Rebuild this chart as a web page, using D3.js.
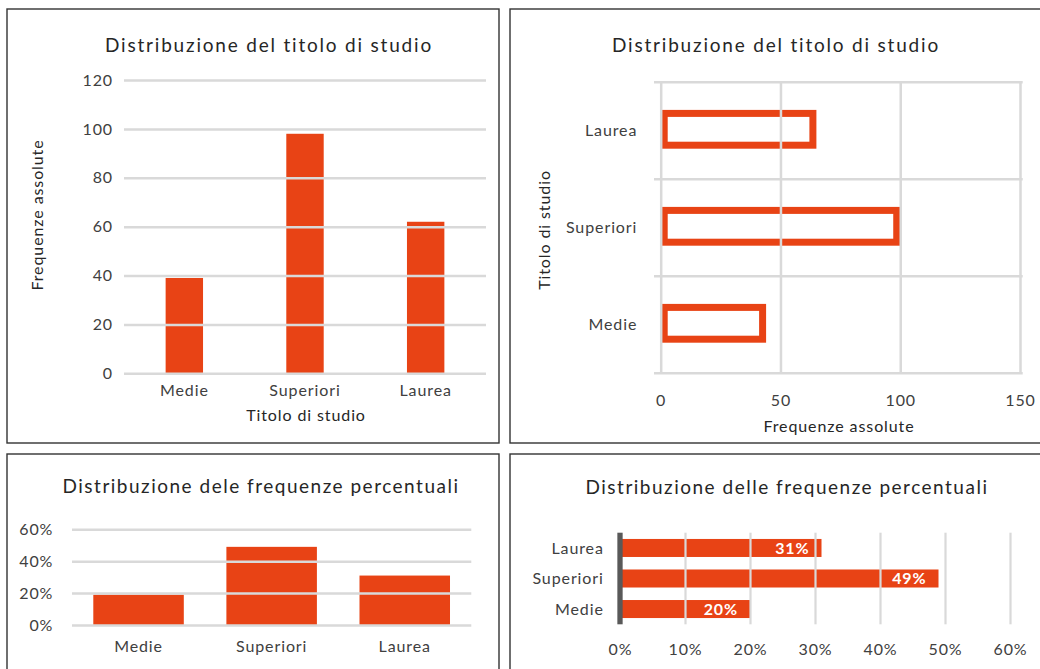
<!DOCTYPE html>
<html>
<head>
<meta charset="utf-8">
<script src="https://cdn.jsdelivr.net/npm/d3@7/dist/d3.min.js"></script>
<style>
  html, body { margin: 0; padding: 0; background: #fff; }
  svg { display: block; }
  text { font-family: Lato, "Open Sans", sans-serif; fill: #404040; letter-spacing: 0.9px; }
  .title { font-size: 19px; fill: #262626; letter-spacing: 1.8px; }
  .title.narrow { letter-spacing: 1.5px; }
  .tick text { font-size: 16px; }
  .axis-title { font-size: 16px; fill: #262626; }
</style>
</head>
<body>
<svg id="chart" width="1040" height="669"></svg>
<script>
// Titolo di studio: categories and frequencies
const categories = ["Medie", "Superiori", "Laurea"];
const absoluteFreq = [39, 98, 62];              // column chart (top left)
const absoluteFreqOutline = [44, 100, 65];      // outlined bar chart (top right)
const percentFreq = [0.19, 0.49, 0.31];         // column chart (bottom left)
const percentFreqLabelled = [0.20, 0.49, 0.31]; // labelled bar chart (bottom right)

const absTicksV = [0, 20, 40, 60, 80, 100, 120];
const absTicksH = [0, 50, 100, 150];
const pctTicksV = [0, 0.2, 0.4, 0.6];
const pctTicksH = [0, 0.1, 0.2, 0.3, 0.4, 0.5, 0.6];

const ORANGE = "#E84315";
const GRID = "#D9D9D9";

const svg = d3.select("#chart");
const pct = d3.format(".0%");

// panel frames
[[7, 9, 492, 434], [510, 9, 540, 434], [7, 454, 492, 230], [510, 454, 540, 230]]
  .forEach(([x, y, w, h]) => svg.append("rect")
    .attr("x", x).attr("y", y).attr("width", w).attr("height", h)
    .attr("fill", "none").attr("stroke", "#333").attr("stroke-width", 1.4));

function styleGrid(g, width) {
  g.select(".domain").remove();
  g.selectAll(".tick line").attr("stroke", GRID).attr("stroke-width", width || 2.5);
}

// ---------- Top left: vertical columns, absolute frequencies ----------
{
  const x = d3.scaleBand().domain(categories).range([124, 486]).paddingInner(0.69).paddingOuter(0.345);
  const y = d3.scaleLinear().domain([0, 120]).range([373.3, 80]);

  svg.append("text").attr("class", "title").attr("x", 269).attr("y", 52)
    .attr("text-anchor", "middle").text("Distribuzione del titolo di studio");

  svg.append("g").selectAll("rect").data(categories).join("rect")
    .attr("x", d => x(d)).attr("width", x.bandwidth())
    .attr("y", (d, i) => y(absoluteFreq[i]))
    .attr("height", (d, i) => y(0) - y(absoluteFreq[i]))
    .attr("fill", ORANGE);

  svg.append("g").attr("transform", "translate(124,0)")
    .call(d3.axisLeft(y).tickValues(absTicksV).tickSize(-362).tickPadding(11))
    .call(g => styleGrid(g));

  svg.append("g").attr("transform", `translate(0,${y(0)})`)
    .call(d3.axisBottom(x).tickSize(0))
    .call(g => { g.select(".domain").remove(); g.selectAll("text").attr("dy", null).attr("y", 23); });

  svg.append("text").attr("class", "axis-title").attr("x", 306).attr("y", 421)
    .attr("text-anchor", "middle").text("Titolo di studio");
  svg.append("text").attr("class", "axis-title")
    .attr("transform", "translate(43,215) rotate(-90)")
    .attr("text-anchor", "middle").text("Frequenze assolute");
}

// ---------- Top right: horizontal outlined bars, absolute frequencies ----------
{
  const order = ["Laurea", "Superiori", "Medie"];
  const valueOf = c => absoluteFreqOutline[categories.indexOf(c)];
  const x = d3.scaleLinear().domain([0, 150]).range([660.7, 1020]);
  const y = d3.scaleBand().domain(order).range([82.3, 373.3]).paddingInner(0.6).paddingOuter(0.3);
  const sw = 7;

  svg.append("text").attr("class", "title").attr("x", 776).attr("y", 52)
    .attr("text-anchor", "middle").text("Distribuzione del titolo di studio");

  svg.append("g").selectAll("rect").data(order).join("rect")
    .attr("x", x(0) + sw / 2)
    .attr("y", d => y(d) - 1.5 + sw / 2)
    .attr("width", d => x(valueOf(d)) - x(0) - sw)
    .attr("height", y.bandwidth() - sw)
    .attr("fill", "#fff").attr("stroke", ORANGE).attr("stroke-width", sw);

  // horizontal band separators
  svg.append("g").selectAll("line").data(d3.range(order.length + 1)).join("line")
    .attr("x1", 654).attr("x2", 1022.7)
    .attr("y1", i => 82.3 + i * y.step()).attr("y2", i => 82.3 + i * y.step())
    .attr("stroke", GRID).attr("stroke-width", 2.5);

  svg.append("g").attr("transform", "translate(0,373.3)")
    .call(d3.axisBottom(x).tickValues(absTicksH).tickSize(-291))
    .call(g => { styleGrid(g); g.selectAll("text").attr("dy", null).attr("y", 32.4); });

  svg.append("g").attr("transform", "translate(654,0)")
    .call(d3.axisLeft(y).tickSize(0).tickPadding(16.7))
    .call(g => { g.select(".domain").remove(); g.selectAll("text").attr("dy", "0.35em"); });

  svg.append("text").attr("class", "axis-title").attr("x", 839).attr("y", 431.7)
    .attr("text-anchor", "middle").text("Frequenze assolute");
  svg.append("text").attr("class", "axis-title")
    .attr("transform", "translate(550,230) rotate(-90)")
    .attr("text-anchor", "middle").text("Titolo di studio");
}

// ---------- Bottom left: vertical columns, percentages ----------
{
  const x = d3.scaleBand().domain(categories).range([72, 471.3]).paddingInner(0.32).paddingOuter(0.16);
  const y = d3.scaleLinear().domain([0, 0.6]).range([625, 529.3]);

  svg.append("text").attr("class", "title narrow").attr("x", 261).attr("y", 493)
    .attr("text-anchor", "middle").text("Distribuzione dele frequenze percentuali");

  svg.append("g").selectAll("rect").data(categories).join("rect")
    .attr("x", d => x(d)).attr("width", x.bandwidth())
    .attr("y", (d, i) => y(percentFreq[i]))
    .attr("height", (d, i) => y(0) - y(percentFreq[i]))
    .attr("fill", ORANGE);

  svg.append("g").attr("transform", "translate(72,0)")
    .call(d3.axisLeft(y).tickValues(pctTicksV).tickFormat(pct).tickSize(-399.3).tickPadding(18.7))
    .call(g => styleGrid(g));

  svg.append("g").attr("transform", `translate(0,${y(0)})`)
    .call(d3.axisBottom(x).tickSize(0))
    .call(g => { g.select(".domain").remove(); g.selectAll("text").attr("dy", null).attr("y", 27); });
}

// ---------- Bottom right: horizontal bars with value labels ----------
{
  const order = ["Laurea", "Superiori", "Medie"];
  const valueOf = c => percentFreqLabelled[categories.indexOf(c)];
  const x = d3.scaleLinear().domain([0, 0.6]).range([620, 1010]);
  const y = d3.scaleBand().domain(order).range([532.7, 624.3]).paddingInner(0.41).paddingOuter(0.205);

  svg.append("text").attr("class", "title narrow").attr("x", 787).attr("y", 494)
    .attr("text-anchor", "middle").text("Distribuzione delle frequenze percentuali");

  svg.append("g").selectAll("rect").data(order).join("rect")
    .attr("x", x(0)).attr("y", d => y(d))
    .attr("width", d => x(valueOf(d)) - x(0)).attr("height", y.bandwidth())
    .attr("fill", ORANGE);

  svg.append("g").attr("transform", "translate(0,624.3)")
    .call(d3.axisBottom(x).tickValues(pctTicksH).tickFormat(pct).tickSize(-91.6))
    .call(g => {
      styleGrid(g, 2.2);
      g.selectAll("text").attr("dy", null).attr("y", 30.7);
      g.selectAll(".tick").filter(d => d === 0).select("line").remove();
    });

  // vertical category axis
  svg.append("line").attr("x1", x(0)).attr("x2", x(0)).attr("y1", 532.7).attr("y2", 624.3)
    .attr("stroke", "#595959").attr("stroke-width", 5.3);

  svg.append("g").attr("transform", "translate(617.3,0)")
    .call(d3.axisLeft(y).tickSize(0).tickPadding(13.5))
    .call(g => { g.select(".domain").remove(); g.selectAll("text").attr("dy", "0.35em"); });

  svg.append("g").selectAll("text").data(order).join("text")
    .attr("x", d => x(valueOf(d)) - 12)
    .attr("y", d => y(d) + y.bandwidth() / 2)
    .attr("dy", "0.36em").attr("text-anchor", "end")
    .style("fill", "#fff").style("font-size", "16px").style("font-weight", "bold")
    .text(d => pct(valueOf(d)));
}
</script>
</body>
</html>
